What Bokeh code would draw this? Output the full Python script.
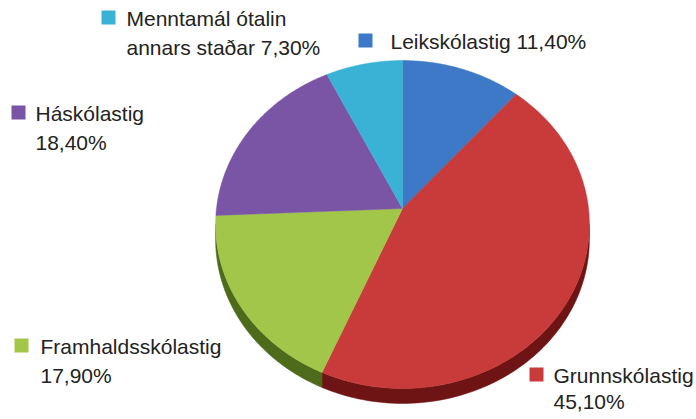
import numpy as np
from bokeh.plotting import figure
from bokeh.models import Range1d
from bokeh.core.properties import value
from bokeh.embed import file_html
from bokeh.resources import INLINE

# ---- data ----
categories = ["Leikskólastig", "Grunnskólastig", "Framhaldsskólastig", "Háskólastig", "Menntamál ótalin annars staðar"]
shares = [11.4, 45.1, 17.9, 18.4, 7.3]
label_lines = [
    ["Leikskólastig 11,40%"],
    ["Grunnskólastig", "45,10%"],
    ["Framhaldsskólastig", "17,90%"],
    ["Háskólastig", "18,40%"],
    ["Menntamál ótalin", "annars staðar 7,30%"],
]

# ---- style ----
top_colors = ["#3d79c6", "#c93a3a", "#a2c64a", "#7a55a6", "#3ab2d6"]
side_colors = ["#1f4a85", "#6e1414", "#4d6b1a", "#4a2f6e", "#1f6f88"]
legend_pos = [(365, 40, 390), (536, 374, 553), (21, 345, 40), (18, 112, 35), (108, 17, 126)]
line_gaps = [28.5, 26.0, 28.5, 28.5, 28.5]

W, H = 696, 419
cx, cy = 402.0, 208.0
A, B, k = 186.0, 162.4, 0.0975
depth = 15.0

def proj(theta_deg):
    t = np.radians(theta_deg)
    den = 1 + k * np.cos(t)
    return cx + A * np.sin(t) / den, cy - B * np.cos(t) / den

p = figure(width=W, height=H, output_backend="svg", toolbar_location=None,
           x_range=Range1d(0, W), y_range=Range1d(H, 0), min_border=0)
p.axis.visible = False
p.grid.visible = False
p.outline_line_color = None
p.background_fill_color = "white"

total = sum(shares)
bounds = np.concatenate([[0], np.cumsum(shares) / total * 360.0])

# visible side between the horizontal extremes
lo = np.degrees(np.arccos(-k))
hi = 360 - lo
for i in range(len(shares)):
    a, b = bounds[i], bounds[i + 1]
    s, e = max(a, lo), min(b, hi)
    if e > s:
        th = np.linspace(s, e, 80)
        x, y = proj(th)
        xs = np.concatenate([x, x[::-1]])
        ys = np.concatenate([y, (y + depth)[::-1]])
        p.patch(xs, ys, fill_color=side_colors[i], line_color=side_colors[i], line_width=0.5)

for i in range(len(shares)):
    a, b = bounds[i], bounds[i + 1]
    th = np.linspace(a, b, 120)
    x, y = proj(th)
    xs = np.concatenate([[cx], x])
    ys = np.concatenate([[cy], y])
    p.patch(xs, ys, fill_color=top_colors[i], line_color=top_colors[i], line_width=0.5)

# legend labels
for i in range(len(shares)):
    sx, sy, tx = legend_pos[i]
    p.rect(x=[sx], y=[sy], width=14, height=14, fill_color=top_colors[i], line_color=None)
    lines = label_lines[i]
    ys = [sy + 1 + j * line_gaps[i] for j in range(len(lines))]
    p.text(x=[tx] * len(lines), y=ys, text=lines, text_font=value("Liberation Sans"),
           text_font_size="21px", text_baseline="middle", text_align="left", text_color="#222222")

open("out.html", "w").write(file_html(p, INLINE))
